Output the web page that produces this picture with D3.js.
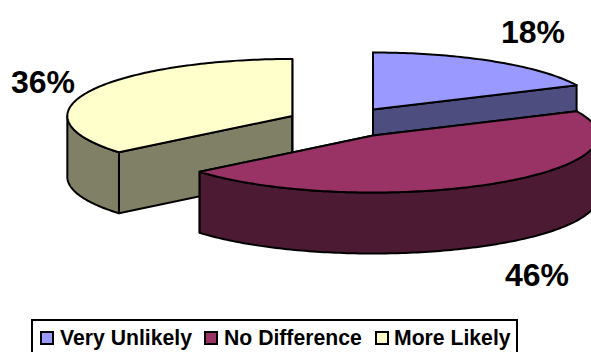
<!DOCTYPE html>
<html>
<head>
<meta charset="utf-8">
<script src="https://cdn.jsdelivr.net/npm/d3@7"></script>
<style>
  html, body { margin: 0; padding: 0; background: #fff; }
  svg { display: block; }
  text { font-family: "Liberation Sans", Arial, sans-serif; font-weight: bold; fill: #000; }
</style>
</head>
<body>
<svg id="chart" width="591" height="352"></svg>
<script>
const categories = ["Very Unlikely", "No Difference", "More Likely"];
const shares = [18, 46, 36];
const topColors = ["#9999FF", "#993366", "#FFFFCC"];
const sideColors = ["#4D4D80", "#4D1A33", "#808066"];

const svg = d3.select("#chart");

// Tilted, exploded pie: an ellipse per slice, extruded downwards.
const rx = 225, ry = 57, depth = 61;
const cx = 343, cy = 122.5;
const explodeX = 56, explodeY = 15.4;

const slices = d3.pie().sort(null).value(d => d)(shares);

const project = (c, a) => [c[0] + rx * Math.sin(a), c[1] - ry * Math.cos(a)];
const lower = p => [p[0], p[1] + depth];

function arcPoints(c, a0, a1) {
  const step = Math.PI / 180;
  const n = Math.max(2, Math.ceil(Math.abs(a1 - a0) / step));
  return d3.range(n + 1).map(i => project(c, a0 + (a1 - a0) * i / n));
}
const line = d3.line();
const stroke = sel => sel.attr("stroke", "#000").attr("stroke-width", 2).attr("stroke-linejoin", "round");

const plot = svg.append("g").attr("class", "pie");

function drawSlice(i) {
  const s = slices[i];
  const mid = (s.startAngle + s.endAngle) / 2;
  const c = [cx + explodeX * Math.sin(mid), cy - explodeY * Math.cos(mid)];
  const g = plot.append("g").attr("class", "slice-" + i);

  // Cut faces: both are painted, the top face and nearer walls cover the hidden parts.
  [s.startAngle, s.endAngle].forEach(a => {
    const e = project(c, a);
    g.append("path")
      .attr("d", line([c, e, lower(e), lower(c)]) + "Z")
      .attr("fill", sideColors[i]).call(stroke);
  });

  // Outer wall: the part of the rim on the near half of the ellipse.
  const wallStart = Math.max(s.startAngle, Math.PI / 2);
  const wallEnd = Math.min(s.endAngle, 3 * Math.PI / 2);
  if (wallEnd > wallStart) {
    const rim = arcPoints(c, wallStart, wallEnd);
    g.append("path")
      .attr("d", line(rim.concat(rim.map(lower).reverse())) + "Z")
      .attr("fill", sideColors[i]).call(stroke);
  }

  // Top face.
  g.append("path")
    .attr("d", line([c].concat(arcPoints(c, s.startAngle, s.endAngle))) + "Z")
    .attr("fill", topColors[i]).call(stroke);
}

// Back to front so nearer slices cover the ones behind them.
[2, 0, 1].forEach(drawSlice);

// Percentage labels.
const labelAnchors = [[533, 43], [537, 286], [43, 93]];
svg.append("g").selectAll("text").data(shares).join("text")
  .attr("x", (d, i) => labelAnchors[i][0])
  .attr("y", (d, i) => labelAnchors[i][1])
  .attr("text-anchor", "middle")
  .attr("font-size", 32)
  .text(d => d + "%");

// Legend box; its lower edge runs off the bottom of the page.
const legend = svg.append("g").attr("class", "legend");
legend.append("rect")
  .attr("x", 32).attr("y", 320).attr("width", 485).attr("height", 45)
  .attr("fill", "#fff").attr("stroke", "#000").attr("stroke-width", 2);
const keyX = [41, 205, 376];
const textX = [60, 224, 394];
categories.forEach((name, i) => {
  legend.append("rect")
    .attr("x", keyX[i]).attr("y", 332).attr("width", 12).attr("height", 12)
    .attr("fill", topColors[i]).attr("stroke", "#000").attr("stroke-width", 2);
  legend.append("text")
    .attr("x", textX[i]).attr("y", 345)
    .attr("font-size", 21.2)
    .text(name);
});
</script>
</body>
</html>
